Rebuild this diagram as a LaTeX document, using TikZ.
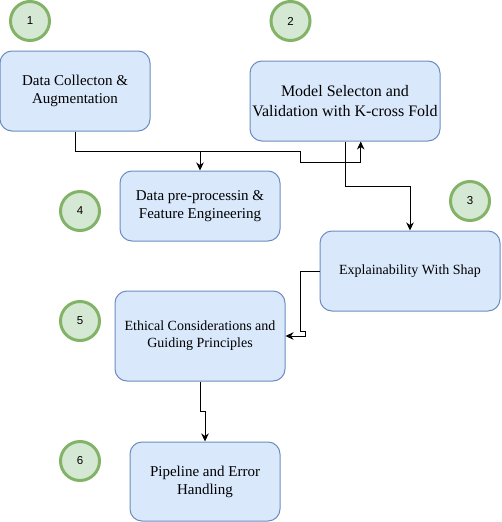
\documentclass[tikz,border=0pt]{standalone}
\usepackage{fontspec}
\setmainfont{Liberation Serif}
\newfontfamily\numfont{Liberation Sans}
\usetikzlibrary{arrows.meta}
\definecolor{boxfill}{HTML}{DAE8FC}
\definecolor{boxdraw}{HTML}{6C8EBF}
\definecolor{cfill}{HTML}{D5E8D4}
\definecolor{cdraw}{HTML}{82B366}
\begin{document}
\begin{tikzpicture}[x=1pt,y=-1pt,
  stagebox/.style={draw=boxdraw, fill=boxfill, rounded corners=12pt, line width=1pt,
    align=center, inner sep=0pt, font=\fontsize{15}{18}\selectfont},
  bigtext/.style={font=\fontsize{16}{20}\selectfont},
  smalltext/.style={font=\fontsize{14}{17}\selectfont},
  numc/.style={circle, draw=cdraw, fill=cfill, line width=3pt, minimum size=39pt,
    inner sep=0pt, font=\numfont\fontsize{11.5}{13}\selectfont},
  arr/.style={line width=1pt, -{Stealth[length=8pt,width=7.5pt,inset=2.5pt]}}]
\useasboundingbox (0,0) rectangle (501,522);
\fill[white] (0,0) rectangle (501,522);

\node[numc] (c1) at (30,21) {1};
\node[numc] (c2) at (290.5,21) {2};
\node[numc] (c3) at (470,201) {3};
\node[numc] (c4) at (80,211) {4};
\node[numc] (c5) at (80,321) {5};
\node[numc] (c6) at (80,461) {6};

\node[stagebox, minimum width=150pt, minimum height=80pt] (b1) at (75,91)
  {Data Collecton \&\\Augmentation};
\node[stagebox, bigtext, minimum width=190pt, minimum height=80pt] (b2) at (345,101)
  {Model Selecton and\\Validation with K-cross Fold};
\node[stagebox, smalltext, minimum width=180pt, minimum height=80pt] (b3) at (410,271)
  {Explainability With Shap};
\node[stagebox, minimum width=160pt, minimum height=70pt] (b4) at (200,206)
  {Data pre-processin \&\\Feature Engineering};
\node[stagebox, smalltext, minimum width=170pt, minimum height=90pt] (b5) at (200,336)
  {Ethical Considerations and\\Guiding Principles};
\node[stagebox, minimum width=150pt, minimum height=79pt] (b6) at (205,481.5)
  {Pipeline and Error\\Handling};

% 1 -> 4
\draw[arr] (b1.south) -- ++(0,20) -| (b4.north);
% 1 -> 2
\draw[arr] (b1.south) -- ++(0,20) -- ++(225.7,0) -- ++(0,10.5) -| ([xshift=15.7pt]b2.south);
% 2 -> 3
\draw[arr] (b2.south) -- ++(0,45) -| (b3.north);
% 3 -> 5
\draw[arr] (b3.west) -- ++(-19.5,0) -- ++(0,60) -- ++(5,0) |- (b5.east);
% 5 -> 6
\draw[arr] (b5.south) -- ++(0,30) -| (b6.north);
\end{tikzpicture}
\end{document}
